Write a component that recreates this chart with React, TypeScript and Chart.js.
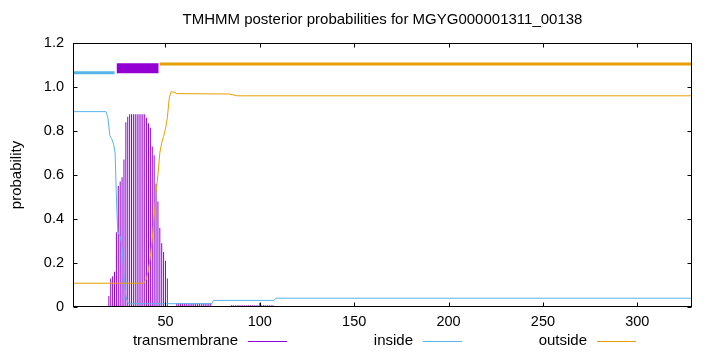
import { useEffect, useRef } from "react";
import { Chart, registerables } from "chart.js";

Chart.register(...registerables);

const TITLE = "TMHMM posterior probabilities for MGYG000001311_00138";
const Y_TITLE = "probability";
const SEQ_START = 1;
const SEQ_END = 329;

const xTickValues = [50, 100, 150, 200, 250, 300];
const yTickValues = [0, 0.2, 0.4, 0.6, 0.8, 1, 1.2];

const legendLabels = ["transmembrane", "inside", "outside"];

// Transmembrane posterior probability per residue, starting at residue 20
const tmFirstResidue = 20;
const tmValues = [
  0.05, 0.13, 0.14, 0.16, 0.34, 0.55, 0.57, 0.59, 0.67, 0.84, // 20-29
  0.865, 0.876, 0.876, 0.876, 0.876, 0.876, 0.876, 0.876, 0.876, 0.876, // 30-39
  0.86, 0.835, 0.815, 0.73, 0.69, 0.56, 0.48, 0.36, 0.29, 0.25, // 40-49
  0.21, 0.13, 0, 0, 0, 0, 0.017, 0.017, 0.017, 0.017, // 50-59
  0.017, 0.017, 0.017, 0.017, 0.017, 0.017, 0.017, 0.017, 0.017, 0.017, // 60-69
  0.017, 0.017, 0.017, 0.017, 0.017, 0, 0, 0, 0, 0, // 70-79
  0, 0, 0, 0, 0, 0.008, 0.008, 0.008, 0.008, 0.008, // 80-89
  0.008, 0.008, 0.008, 0.008, 0.008, 0.008, 0.008, 0.008, 0.008, 0.008, // 90-99
  0.018, 0.008, 0.008, 0.008, 0.008, 0.008, 0.008, 0.008, // 100-107
];

// Inside probability (residue, value)
const insideX = [1, 18.5, 19.5, 20.5, 21.5, 22.5, 23.3, 24.3, 24.8, 26, 27, 28, 29, 30, 31, 74.5, 75.5, 107.5, 108.5, 329];
const insideY = [0.888, 0.888, 0.86, 0.78, 0.765, 0.74, 0.7, 0.42, 0.34, 0.32, 0.27, 0.14, 0.05, 0.02, 0.015, 0.015, 0.03, 0.03, 0.04, 0.04];

// Outside probability (residue, value)
const outsideX = [1, 38.5, 40, 41, 42, 43, 44, 45, 46, 47, 48, 49, 50, 51, 52, 53, 54.5, 56, 84, 88, 329];
const outsideY = [0.108, 0.108, 0.13, 0.17, 0.23, 0.31, 0.41, 0.52, 0.6, 0.7, 0.745, 0.775, 0.81, 0.86, 0.95, 0.978, 0.977, 0.97, 0.968, 0.96, 0.96];

// Predicted topology segments: [from, to, level]
const insideSegment = [1, 23, 1.065];
const tmSegment = [24.2, 46.3, 1.085];
const outsideSegment = [46.9, 329, 1.105];

const COLOR_TM = "#9400D3";
const COLOR_IN = "#56B4E9";
const COLOR_OUT = "#E69F00";
const FONT = "'Liberation Sans', Arial, Helvetica, sans-serif";
const TICK_SIZE = 14.5;
const TEXT_SIZE = 15;

const pts = (xs: number[], ys: number[]) => xs.map((x, i) => ({ x, y: ys[i] }));
const seg = (s: number[]) => [
  { x: s[0], y: s[2] },
  { x: s[1], y: s[2] },
];

const framePlugin = {
  id: "gnuplotFrame",
  afterDatasetsDraw(chart: any) {
    const { ctx, chartArea: a, scales } = chart;
    ctx.save();
    ctx.lineWidth = 1;
    ctx.strokeStyle = "#000";
    const L = Math.round(a.left) + 0.5;
    const R = Math.round(a.right) - 0.5;
    const T = Math.round(a.top) + 0.5;
    const B = Math.round(a.bottom) - 0.5;
    ctx.beginPath();
    for (const v of xTickValues) {
      const px = Math.round(scales.x.getPixelForValue(v)) + 0.5;
      ctx.moveTo(px, B);
      ctx.lineTo(px, B - 4);
      ctx.moveTo(px, T);
      ctx.lineTo(px, T + 4);
    }
    for (const v of yTickValues) {
      const py = Math.round(scales.y.getPixelForValue(v)) + 0.5;
      ctx.moveTo(L, py);
      ctx.lineTo(L + 4, py);
      ctx.moveTo(R, py);
      ctx.lineTo(R - 4, py);
    }
    ctx.stroke();
    ctx.strokeRect(L, T, R - L, B - T);

    // y axis title
    ctx.fillStyle = "#000";
    ctx.font = `${TEXT_SIZE}px ${FONT}`;
    ctx.textAlign = "center";
    ctx.textBaseline = "middle";
    ctx.save();
    ctx.translate(17, (a.top + a.bottom) / 2);
    ctx.rotate(-Math.PI / 2);
    ctx.fillText(Y_TITLE, 0, 0);
    ctx.restore();

    // legend (gnuplot style: text then line sample)
    const colors = [COLOR_TM, COLOR_IN, COLOR_OUT];
    const textRight = [238, 413, 587];
    const ly = 341;
    ctx.textAlign = "right";
    legendLabels.forEach((lab, i) => {
      ctx.fillStyle = "#000";
      ctx.fillText(lab, textRight[i], ly);
      ctx.strokeStyle = colors[i];
      ctx.beginPath();
      ctx.moveTo(textRight[i] + 10, ly + 0.5);
      ctx.lineTo(textRight[i] + 49, ly + 0.5);
      ctx.stroke();
    });
    ctx.restore();
  },
};

export default function App() {
  const ref = useRef<HTMLCanvasElement | null>(null);

  useEffect(() => {
    if (!ref.current) return;
    const chart = new Chart(ref.current, {
      type: "line",
      data: {
        datasets: [
          {
            type: "line",
            label: "outside bar",
            data: seg(outsideSegment),
            borderColor: COLOR_OUT,
            borderWidth: 3,
            borderCapStyle: "butt",
            pointRadius: 0,
          },
          {
            type: "line",
            label: "tm bar",
            data: seg(tmSegment),
            borderColor: COLOR_TM,
            borderWidth: 10,
            borderCapStyle: "butt",
            pointRadius: 0,
          },
          {
            type: "line",
            label: "inside bar",
            data: seg(insideSegment),
            borderColor: COLOR_IN,
            borderWidth: 3,
            borderCapStyle: "butt",
            pointRadius: 0,
          },
          {
            type: "line",
            label: "outside",
            data: pts(outsideX, outsideY),
            borderColor: COLOR_OUT,
            borderWidth: 1,
            pointRadius: 0,
            tension: 0,
          },
          {
            type: "line",
            label: "inside",
            data: pts(insideX, insideY),
            borderColor: COLOR_IN,
            borderWidth: 1,
            pointRadius: 0,
            tension: 0,
          },
          {
            type: "bar",
            label: "transmembrane",
            data: tmValues.map((v, i) => ({ x: tmFirstResidue + i, y: v })),
            backgroundColor: COLOR_TM,
            borderWidth: 0,
            inflateAmount: 0,
            barThickness: 1,
            grouped: false,
          } as any,
        ],
      },
      options: {
        animation: false,
        responsive: true,
        maintainAspectRatio: false,
        layout: { padding: { left: 0, right: 28, top: 0, bottom: 0 } },
        font: { family: FONT, size: TICK_SIZE },
        plugins: {
          legend: { display: false },
          tooltip: { enabled: false },
          title: {
            display: true,
            text: TITLE,
            fullSize: false,
            color: "#000",
            font: { family: FONT, size: TEXT_SIZE, weight: "normal" },
            padding: { top: 11, bottom: 14 },
          },
        },
        scales: {
          x: {
            type: "linear",
            min: SEQ_START,
            max: SEQ_END,
            offset: false,
            grid: { display: false, drawTicks: false },
            border: { display: false },
            ticks: {
              color: "#000",
              font: { family: FONT, size: TICK_SIZE },
              padding: 6,
              maxRotation: 0,
              autoSkip: false,
            },
            afterBuildTicks: (s: any) => {
              s.ticks = xTickValues.map((v) => ({ value: v }));
            },
            afterFit: (s: any) => {
              s.height = 45;
            },
          },
          y: {
            type: "linear",
            min: 0,
            max: 1.2,
            grid: { display: false, drawTicks: false },
            border: { display: false },
            ticks: {
              color: "#000",
              font: { family: FONT, size: TICK_SIZE },
              padding: 9,
            },
            afterBuildTicks: (s: any) => {
              s.ticks = yTickValues.map((v) => ({ value: v }));
            },
            afterFit: (s: any) => {
              s.width = 73;
            },
          },
        },
      } as any,
      plugins: [framePlugin],
    });
    return () => chart.destroy();
  }, []);

  return (
    <div style={{ position: "absolute", left: 0, top: 0, width: 720, height: 352 }}>
      <canvas ref={ref} />
    </div>
  );
}
